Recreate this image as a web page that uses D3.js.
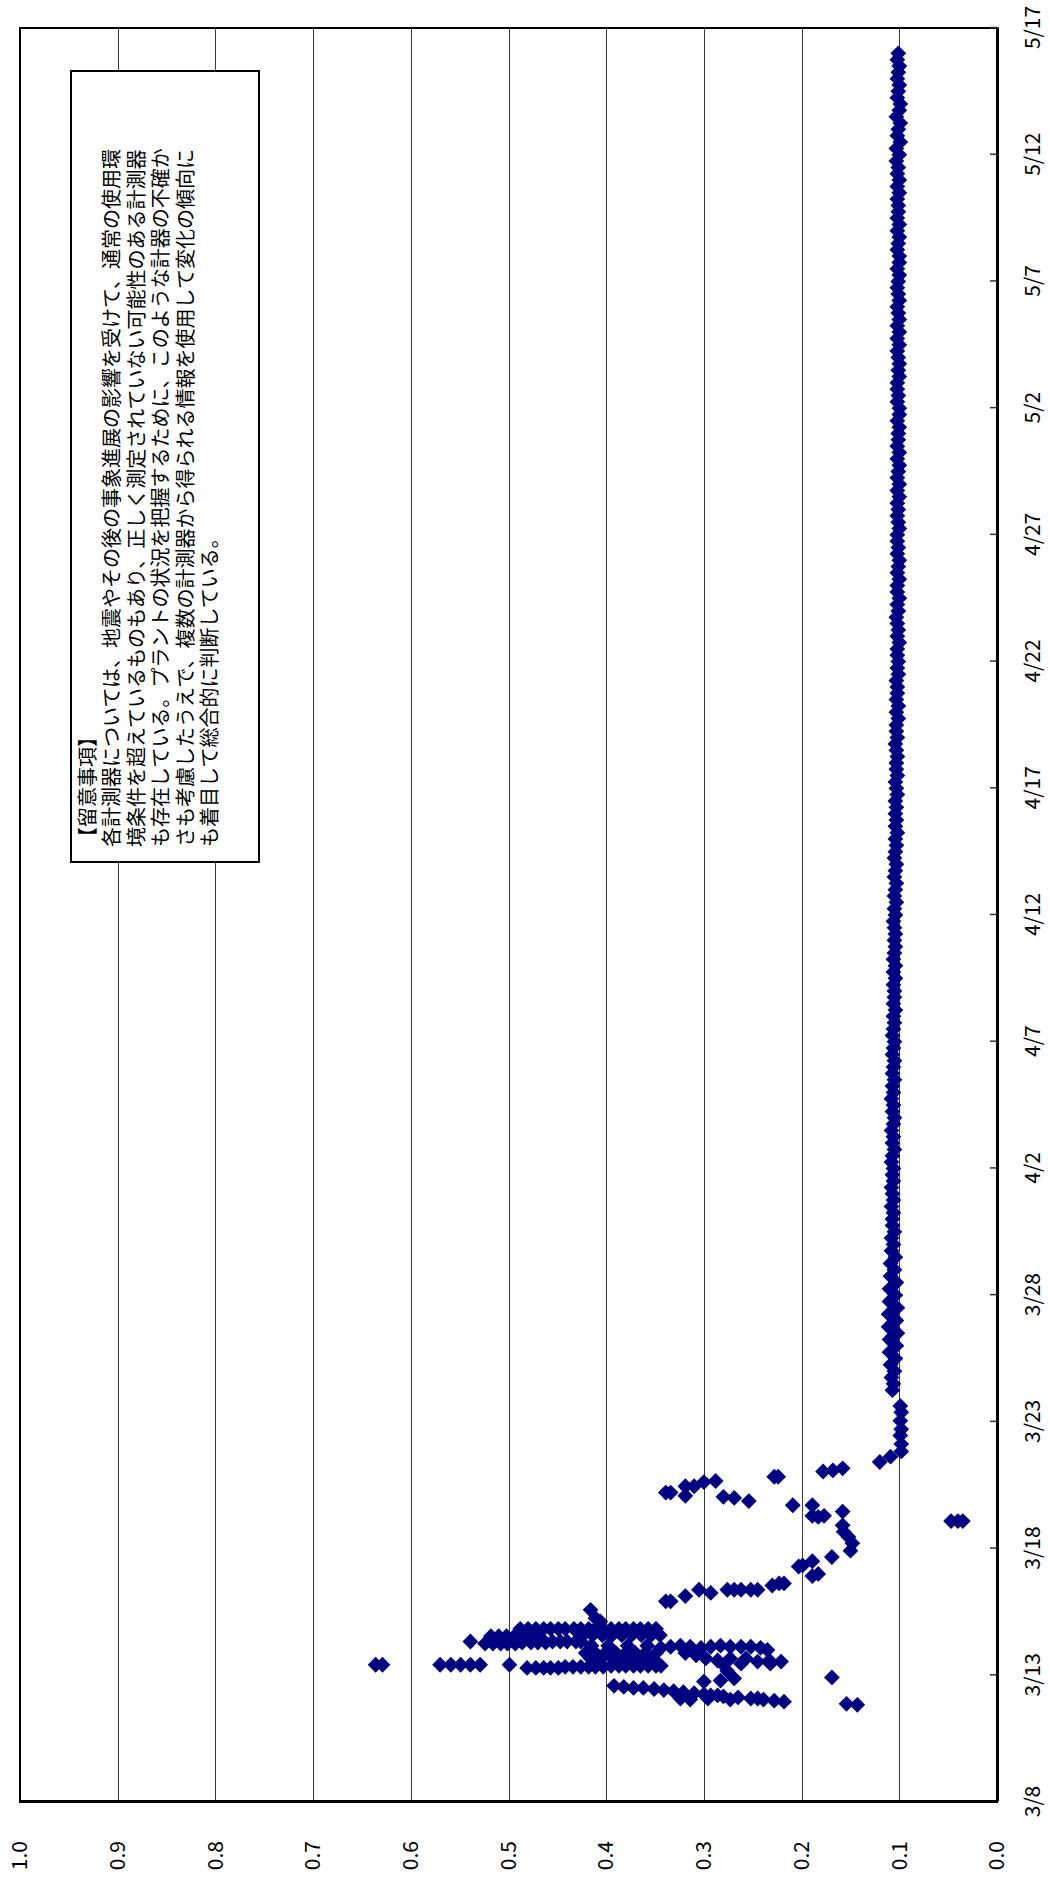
<!DOCTYPE html>
<html>
<head>
<meta charset="utf-8">
<script src="https://cdn.jsdelivr.net/npm/d3@7"></script>
<style>
  body { margin: 0; background: #fff; }
  svg { display: block; }
</style>
</head>
<body>
<svg width="1049" height="1881"></svg>
<script>
// date axis labels (every 5 days) and value axis ticks
const dateTicks = ["3/8", "3/13", "3/18", "3/23", "3/28", "4/2", "4/7", "4/12",
                   "4/17", "4/22", "4/27", "5/2", "5/7", "5/12", "5/17"];
const valueTicks = [0, 0.1, 0.2, 0.3, 0.4, 0.5, 0.6, 0.7, 0.8, 0.9, 1.0];

// early readings (3/11 - 3/23): time, values recorded around that hour
const readingTimes = [
  "3/11 20:00", "3/11 21:00", "3/11 23:00", "3/12 00:00", "3/12 01:00", "3/12 02:00",
  "3/12 03:00", "3/12 04:00", "3/12 05:00", "3/12 06:00", "3/12 07:00", "3/12 08:00",
  "3/12 09:00", "3/12 10:00", "3/12 11:00", "3/12 12:00", "3/12 13:00", "3/12 14:00",
  "3/12 18:00", "3/12 19:00", "3/12 21:00", "3/12 22:00", "3/13 04:00", "3/13 07:00",
  "3/13 08:00", "3/13 09:00", "3/13 10:00", "3/13 11:00", "3/13 13:00", "3/13 14:00",
  "3/13 16:00", "3/13 19:00", "3/13 21:00", "3/14 00:00", "3/14 02:00", "3/14 03:00",
  "3/14 04:00", "3/14 06:00", "3/14 07:00", "3/14 08:00", "3/14 13:00", "3/14 14:00",
  "3/14 20:00", "3/15 03:00", "3/15 06:00", "3/15 14:00", "3/15 22:00", "3/16 03:00",
  "3/16 06:00", "3/16 09:00", "3/16 13:00", "3/16 15:00", "3/16 22:00", "3/17 00:00",
  "3/17 07:00", "3/17 08:00", "3/17 12:00", "3/17 16:00", "3/17 22:00", "3/18 05:00",
  "3/18 11:00", "3/18 16:00", "3/18 22:00", "3/19 02:00", "3/19 06:00", "3/19 07:00",
  "3/19 11:00", "3/19 17:00", "3/19 21:00", "3/20 00:00", "3/20 01:00", "3/20 02:00",
  "3/20 05:00", "3/20 11:00", "3/20 15:00", "3/20 16:00", "3/20 20:00", "3/21 01:00",
  "3/21 02:00", "3/21 04:00", "3/21 10:00", "3/21 15:00", "3/21 20:00", "3/22 03:00",
  "3/22 11:00", "3/22 17:00", "3/23 01:00", "3/23 09:00", "3/23 15:00"
];
const readingValues = [
  [0.143], [0.154], [0.218], [0.228], [0.239, 0.273, 0.314], [0.245, 0.252, 0.296, 0.324],
  [0.265], [0.280], [0.286, 0.293], [0.300], [0.310], [0.321],
  [0.331], [0.341], [0.351], [0.362, 0.372], [0.382], [0.392],
  [0.300], [0.283], [0.269], [0.169], [0.276], [0.481, 0.472, 0.464, 0.457, 0.449],
  [0.442, 0.434, 0.426, 0.418, 0.411, 0.403],
  [0.395, 0.387, 0.380, 0.372, 0.365, 0.357, 0.349, 0.344],
  [0.636, 0.629, 0.570, 0.559, 0.549, 0.539, 0.529, 0.499, 0.280],
  [0.262, 0.232], [0.245, 0.221], [0.286, 0.233],
  [0.416, 0.406, 0.393, 0.383, 0.373, 0.363, 0.352, 0.298, 0.273, 0.257],
  [0.308],
  [0.421, 0.411, 0.401, 0.390, 0.380, 0.370, 0.360, 0.349, 0.319],
  [0.235], [0.344, 0.303, 0.242], [0.334, 0.314, 0.293, 0.273, 0.262, 0.252],
  [0.324, 0.283, 0.415, 0.398, 0.378, 0.358],
  [0.524, 0.516, 0.508, 0.501, 0.493],
  [0.486, 0.477, 0.470, 0.462],
  [0.539, 0.455, 0.447, 0.440, 0.431, 0.426],
  [0.518, 0.510, 0.502, 0.494, 0.486, 0.478, 0.470],
  [0.424, 0.414, 0.404, 0.394, 0.384, 0.374, 0.364, 0.354, 0.345],
  [0.488, 0.480, 0.472, 0.464, 0.457, 0.449, 0.442, 0.433, 0.426, 0.418,
   0.411, 0.403, 0.395, 0.387, 0.380, 0.372, 0.365, 0.357, 0.349],
  [0.406], [0.411], [0.416], [0.339, 0.334], [0.319],
  [0.293], [0.305, 0.276, 0.269, 0.262, 0.252, 0.245], [0.230], [0.223, 0.218], [0.189], [0.183],
  [0.203], [0.199], [0.189], [0.169], [0.150], [0.148],
  [0.152], [0.157], [0.158], [0.047, 0.040, 0.035], [0.183], [0.189, 0.177],
  [0.158], [0.189, 0.209], [0.254], [0.269], [0.280], [0.319],
  [0.339, 0.334], [0.319, 0.310], [0.300], [0.288], [0.228, 0.224], [0.178],
  [0.168], [0.158], [0.120], [0.109], [0.098], [0.098],
  [0.099], [0.098], [0.099], [0.098], [0.099]
];

// later readings, every 6 hours from 3/24 06:00 to 5/16 00:00
const bandStart = "3/24 06:00";
const bandStepHours = 6;
const bandValues = [
  0.107, 0.106, 0.108,
  0.105, 0.109, 0.104, 0.110,  0.103, 0.110, 0.102, 0.111,  0.103, 0.111, 0.102, 0.110,
  0.104, 0.110, 0.103, 0.109,  0.105, 0.109, 0.104, 0.108,  0.106, 0.108, 0.105, 0.107,
  0.107, 0.106, 0.108, 0.106,
  0.107, 0.108, 0.106, 0.107,  0.106, 0.108, 0.107, 0.105,  0.107, 0.106, 0.108, 0.106,
  0.105, 0.107, 0.106, 0.108,  0.106, 0.107, 0.105, 0.107,  0.106, 0.105, 0.107, 0.106,
  0.105, 0.107, 0.106, 0.105,  0.106, 0.104, 0.106, 0.105,  0.105, 0.106, 0.104, 0.106,
  0.104, 0.106, 0.105, 0.104,  0.105, 0.104, 0.105, 0.106,  0.104, 0.105, 0.103, 0.105,
  0.104, 0.103, 0.105, 0.104,  0.103, 0.105, 0.104, 0.103,  0.104, 0.102, 0.104, 0.103,
  0.104, 0.103, 0.104, 0.102,  0.103, 0.104, 0.102, 0.103,  0.103, 0.102, 0.103, 0.104,
  0.102, 0.103, 0.103, 0.101,  0.103, 0.101, 0.103, 0.102,  0.102, 0.103, 0.101, 0.102,
  0.101, 0.102, 0.102, 0.100,  0.102, 0.101, 0.102, 0.103,  0.101, 0.102, 0.100, 0.102,
  0.102, 0.100, 0.102, 0.101,  0.100, 0.102, 0.101, 0.102,  0.102, 0.100, 0.101, 0.102,
  0.101, 0.102, 0.100, 0.102,  0.100, 0.102, 0.101, 0.100,  0.102, 0.100, 0.102, 0.101,
  0.101, 0.100, 0.102, 0.100,  0.100, 0.102, 0.101, 0.102,  0.102, 0.100, 0.101, 0.100,
  0.101, 0.102, 0.100, 0.102,  0.100, 0.102, 0.100, 0.101,  0.102, 0.100, 0.101, 0.102,
  0.101, 0.100, 0.102, 0.100,  0.100, 0.102, 0.101, 0.100,  0.102, 0.100, 0.102, 0.101,
  0.101, 0.102, 0.100, 0.102,  0.100, 0.102, 0.101, 0.103,  0.100, 0.103, 0.099, 0.102,
  0.101, 0.099, 0.103, 0.100,  0.099, 0.102, 0.101, 0.100,  0.102, 0.101, 0.100, 0.102,
  0.101
];

const noteLines = [
  "【留意事項】",
  "各計測器については、地震やその後の事象進展の影響を受けて、通常の使用環",
  "境条件を超えているものもあり、正しく測定されていない可能性のある計測器",
  "も存在している。プラントの状況を把握するために、このような計器の不確か",
  "さも考慮したうえで、複数の計測器から得られる情報を使用して変化の傾向に",
  "も着目して総合的に判断している。"
];

const parseTime = d3.timeParse("%Y/%m/%d %H:%M");
const toDate = s => parseTime("2011/" + (s.includes(":") ? s : s + " 00:00"));

const svg = d3.select("svg");
const pageW = 1881; // chart is drawn lying on its side, then turned
const font = "'Noto Sans CJK JP', 'Noto Sans', sans-serif";

const chart = svg.append("g")
    .attr("transform", `translate(0,${pageW}) rotate(-90)`);

const plot = { left: 79, right: 1853, top: 20, bottom: 997 };

const x = d3.scaleTime()
    .domain([toDate(dateTicks[0]), toDate(dateTicks[dateTicks.length - 1])])
    .range([plot.left, plot.right]);
const y = d3.scaleLinear()
    .domain([0, 1])
    .range([plot.bottom, plot.top]);

// gridlines
chart.append("g")
    .selectAll("line")
    .data(valueTicks.slice(1, -1))
    .join("line")
    .attr("x1", plot.left)
    .attr("x2", plot.right)
    .attr("y1", d => Math.round(y(d)) + 0.5)
    .attr("y2", d => Math.round(y(d)) + 0.5)
    .attr("stroke", "#3a3a3a")
    .attr("stroke-width", 1);

// points
const points = [];
readingTimes.forEach((t, i) => {
    readingValues[i].forEach(v => points.push({ date: toDate(t), value: v }));
});
const band0 = toDate(bandStart);
bandValues.forEach((v, i) => {
    points.push({ date: d3.timeHour.offset(band0, i * bandStepHours), value: v });
});

const diamond = d3.symbol().type(d3.symbolSquare).size(125);
chart.append("g")
    .selectAll("path")
    .data(points)
    .join("path")
    .attr("d", diamond)
    .attr("transform", d => `translate(${x(d.date)},${y(d.value)}) rotate(45)`)
    .attr("fill", "#000080");

// frame
chart.append("rect")
    .attr("x", plot.left)
    .attr("y", plot.top)
    .attr("width", plot.right - plot.left)
    .attr("height", plot.bottom - plot.top)
    .attr("fill", "none")
    .attr("stroke", "#000")
    .attr("stroke-width", 2);

// date axis
const xAxis = chart.append("g")
    .attr("transform", `translate(0,${plot.bottom})`)
    .call(d3.axisBottom(x)
        .tickValues(dateTicks.map(toDate))
        .tickSizeInner(-7)
        .tickSizeOuter(0)
        .tickPadding(28)
        .tickFormat((d, i) => dateTicks[i]));
xAxis.select(".domain").attr("stroke-width", 3);
xAxis.selectAll(".tick line").attr("stroke", "#333").attr("stroke-width", 1.5);
xAxis.selectAll("text")
    .attr("font-family", font)
    .attr("font-size", 21)
    .attr("fill", "#000");

// value axis
const yAxis = chart.append("g")
    .attr("transform", `translate(${plot.left},0)`)
    .call(d3.axisLeft(y)
        .tickValues(valueTicks)
        .tickSize(0)
        .tickPadding(39)
        .tickFormat(d3.format(".1f")));
yAxis.select(".domain").attr("stroke-width", 3);
yAxis.selectAll("text")
    .attr("font-family", font)
    .attr("font-size", 21)
    .attr("fill", "#000");

// note box
const note = chart.append("g");
note.append("rect")
    .attr("x", 1019)
    .attr("y", 71)
    .attr("width", 791)
    .attr("height", 188)
    .attr("fill", "#fff")
    .attr("stroke", "#000")
    .attr("stroke-width", 2);
note.selectAll("text")
    .data(noteLines)
    .join("text")
    .attr("x", 1034)
    .attr("y", (d, i) => 86 + i * 24.5)
    .attr("dominant-baseline", "central")
    .attr("font-family", font)
    .attr("font-size", 20)
    .attr("fill", "#000")
    .text(d => d);
</script>
</body>
</html>
